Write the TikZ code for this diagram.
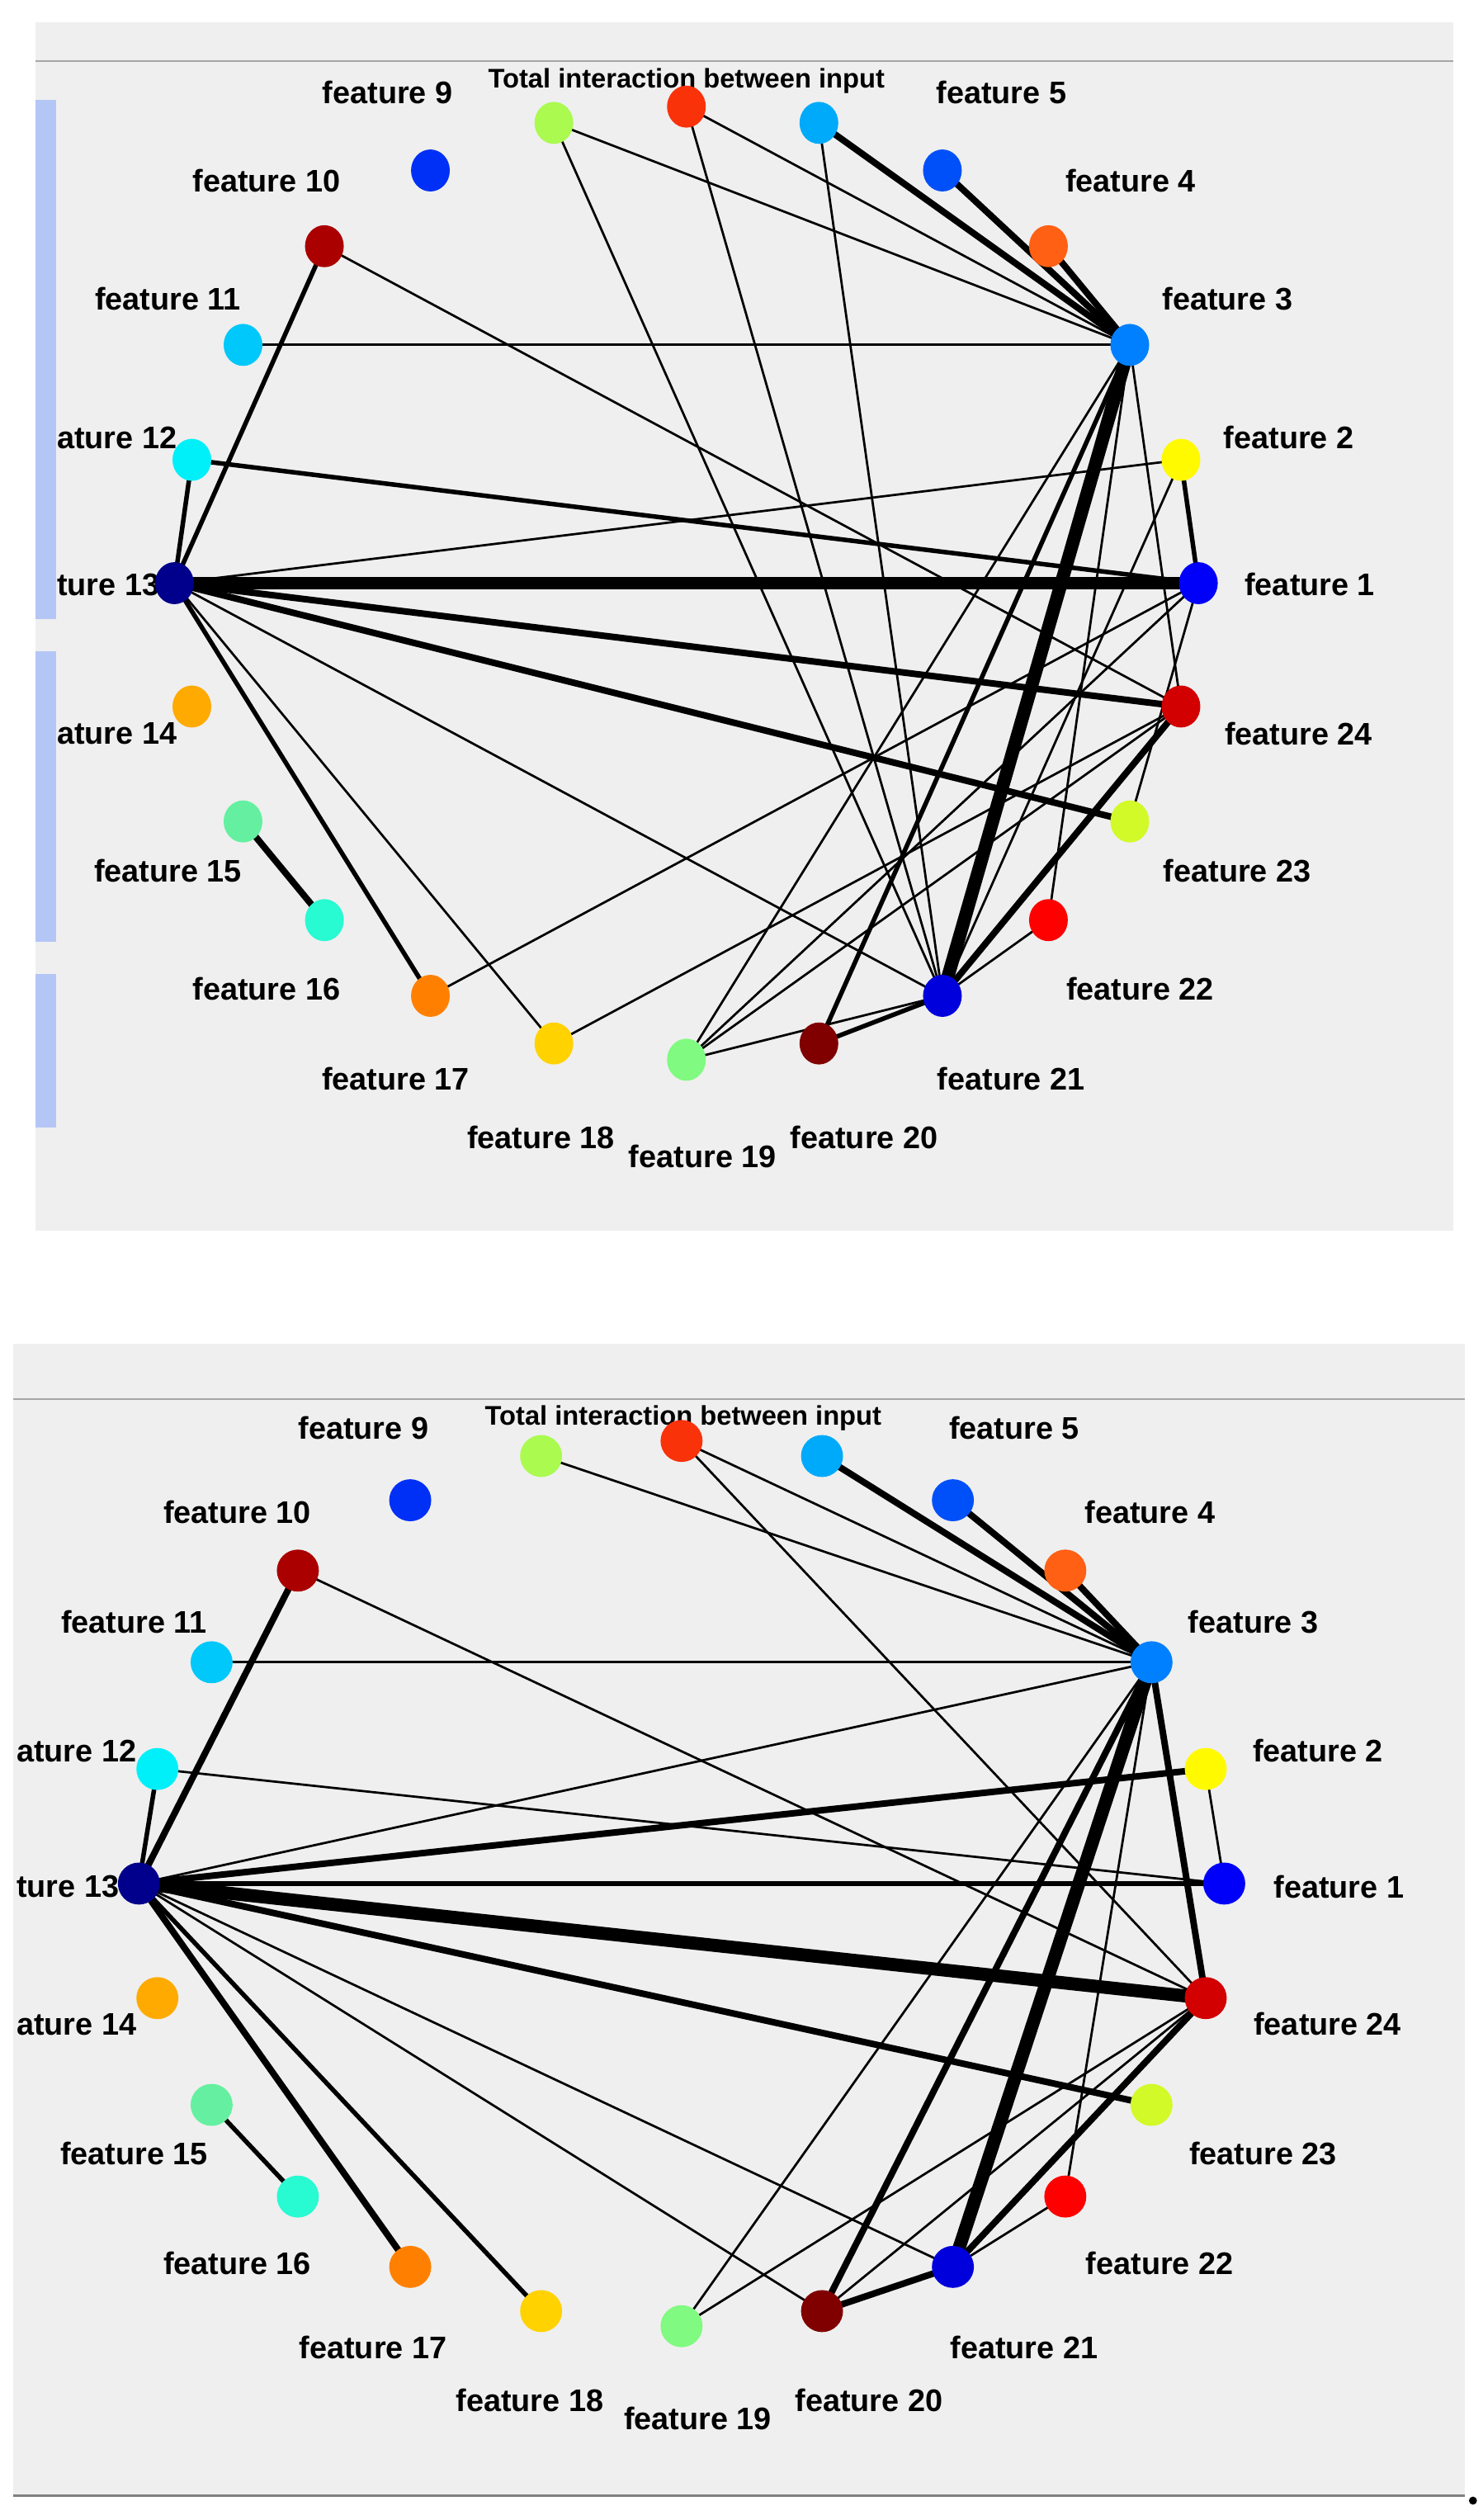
\documentclass[tikz,border=0pt]{standalone}
\usepackage{fontspec}
\setmainfont{Liberation Sans}
\definecolor{bg}{RGB}{239,239,239}
\definecolor{side}{RGB}{180,198,245}
\definecolor{c1}{RGB}{0,0,250}
\definecolor{c2}{RGB}{255,250,0}
\definecolor{c3}{RGB}{0,128,255}
\definecolor{c4}{RGB}{255,96,20}
\definecolor{c5}{RGB}{0,80,250}
\definecolor{c6}{RGB}{0,170,250}
\definecolor{c7}{RGB}{250,50,10}
\definecolor{c8}{RGB}{170,250,80}
\definecolor{c9}{RGB}{0,48,245}
\definecolor{c10}{RGB}{170,0,0}
\definecolor{c11}{RGB}{0,200,250}
\definecolor{c12}{RGB}{0,240,250}
\definecolor{c13}{RGB}{0,0,140}
\definecolor{c14}{RGB}{255,170,0}
\definecolor{c15}{RGB}{100,240,160}
\definecolor{c16}{RGB}{40,250,210}
\definecolor{c17}{RGB}{255,128,0}
\definecolor{c18}{RGB}{255,210,0}
\definecolor{c19}{RGB}{128,250,128}
\definecolor{c20}{RGB}{128,0,0}
\definecolor{c21}{RGB}{0,0,220}
\definecolor{c22}{RGB}{255,0,0}
\definecolor{c23}{RGB}{210,250,40}
\definecolor{c24}{RGB}{210,0,0}
\tikzset{
 thn/.style={line width=0.8pt},
 med/.style={line width=1.6pt},
 thk/.style={line width=2.3pt},
 huge/.style={line width=4.6pt},
 lab/.style={font=\bfseries\fontsize{11}{12}\selectfont, inner sep=0pt},
 ttl/.style={font=\bfseries\fontsize{9.5}{11}\selectfont, inner sep=0pt}
}
\begin{document}
\begin{tikzpicture}[x=0.02cm,y=-0.02cm]
\useasboundingbox (0,0) rectangle (918,1560);
\fill[white] (0,0) rectangle (918,1560);
% top panel
\fill[bg] (22,14) rectangle (900,762);
\draw[gray!70, line width=0.6pt] (22,38) -- (900,38);
\fill[side] (22,62) rectangle (35,383);
\fill[side] (22,403) rectangle (35,583);
\fill[side] (22,603) rectangle (35,698);
% bottom panel
\fill[bg] (8,832) rectangle (907,1545);
\draw[gray!70, line width=0.6pt] (8,866) -- (907,866);
\draw[gray, line width=1pt] (8,1545) -- (907,1545);
\fill[black] (912,1548) circle (2.5);
\foreach \i in {1,...,24}{
 \coordinate (t\i) at ({425+317*cos(15*(\i-1))},{361-295*sin(15*(\i-1))});
 \coordinate (b\i) at ({422+336*cos(15*(\i-1))},{1166-274*sin(15*(\i-1))});
}
% top edges
\draw[huge] (t13) -- (t1);
\draw[huge] (t3) -- (t21);
\draw[thk] (t13) -- (t24);
\draw[thk] (t13) -- (t23);
\draw[thn] (t13) -- (t2);
\draw[med] (t13) -- (t12);
\draw[med] (t13) -- (t10);
\draw[med] (t13) -- (t17);
\draw[thn] (t13) -- (t18);
\draw[thn] (t13) -- (t21);
\draw[med] (t12) -- (t1);
\draw[thn] (t11) -- (t3);
\draw[thn] (t10) -- (t24);
\draw[thk] (t15) -- (t16);
\draw[thk] (t3) -- (t6);
\draw[thk] (t3) -- (t5);
\draw[thk] (t3) -- (t4);
\draw[thn] (t3) -- (t7);
\draw[thn] (t3) -- (t8);
\draw[thn] (t3) -- (t24);
\draw[med] (t3) -- (t20);
\draw[thn] (t3) -- (t19);
\draw[thn] (t3) -- (t22);
\draw[med] (t2) -- (t1);
\draw[thn] (t2) -- (t21);
\draw[thn] (t1) -- (t17);
\draw[thn] (t1) -- (t19);
\draw[thn] (t1) -- (t23);
\draw[thn] (t18) -- (t24);
\draw[thk] (t24) -- (t21);
\draw[thn] (t24) -- (t19);
\draw[med] (t21) -- (t20);
\draw[thn] (t21) -- (t19);
\draw[thn] (t21) -- (t22);
\draw[thn] (t21) -- (t7);
\draw[thn] (t21) -- (t6);
\draw[thn] (t21) -- (t8);
% bottom edges
\draw[huge] (b13) -- (b24);
\draw[huge] (b3) -- (b21);
\draw[med] (b13) -- (b1);
\draw[thk] (b13) -- (b2);
\draw[thk] (b13) -- (b23);
\draw[thn] (b13) -- (b3);
\draw[med] (b13) -- (b12);
\draw[thk] (b13) -- (b10);
\draw[thk] (b13) -- (b17);
\draw[med] (b13) -- (b18);
\draw[thn] (b13) -- (b20);
\draw[thn] (b13) -- (b21);
\draw[thn] (b12) -- (b1);
\draw[thn] (b11) -- (b3);
\draw[thn] (b10) -- (b24);
\draw[med] (b15) -- (b16);
\draw[thk] (b3) -- (b20);
\draw[thk] (b3) -- (b24);
\draw[thk] (b3) -- (b6);
\draw[thk] (b3) -- (b5);
\draw[thk] (b3) -- (b4);
\draw[thn] (b3) -- (b7);
\draw[thn] (b3) -- (b8);
\draw[thn] (b3) -- (b19);
\draw[thn] (b3) -- (b22);
\draw[thn] (b2) -- (b1);
\draw[thn] (b7) -- (b24);
\draw[thk] (b24) -- (b21);
\draw[thn] (b24) -- (b20);
\draw[thn] (b24) -- (b19);
\draw[thk] (b21) -- (b20);
\draw[thn] (b21) -- (b22);
% top labels
\node[lab] (lt9) at (240,57) {feature 9};
\node[ttl] (ltt) at (425,50) {Total interaction between input};
\node[lab] (lt5) at (620,57) {feature 5};
\node[lab] (lt4) at (700,112) {feature 4};
\node[lab] (lt3) at (760,185) {feature 3};
\node[lab] (lt2) at (798,271) {feature 2};
\node[lab] (lt1) at (811,362) {feature 1};
\node[lab] (lt24) at (804,454) {feature 24};
\node[lab] (lt23) at (766,539) {feature 23};
\node[lab] (lt22) at (706,612) {feature 22};
\node[lab] (lt21) at (626,668) {feature 21};
\node[lab] (lt20) at (535,704) {feature 20};
\node[lab] (lt19) at (435,716) {feature 19};
\node[lab] (lt18) at (335,704) {feature 18};
\node[lab] (lt17) at (245,668) {feature 17};
\node[lab] (lt16) at (165,612) {feature 16};
\node[lab] (lt15) at (104,539) {feature 15};
\node[lab,anchor=west] (lt14) at (35,454) {ature 14};
\node[lab,anchor=west] (lt13) at (35,362) {ture 13};
\node[lab,anchor=west] (lt12) at (35,271) {ature 12};
\node[lab] (lt11) at (104,185) {feature 11};
\node[lab] (lt10) at (165,112) {feature 10};
% bottom labels
\node[lab] (lb9) at (225,884) {feature 9};
\node[ttl] (lbt) at (423,878) {Total interaction between input};
\node[lab] (lb5) at (628,884) {feature 5};
\node[lab] (lb4) at (712,936) {feature 4};
\node[lab] (lb3) at (776,1004) {feature 3};
\node[lab] (lb2) at (816,1084) {feature 2};
\node[lab] (lb1) at (829,1168) {feature 1};
\node[lab] (lb24) at (822,1253) {feature 24};
\node[lab] (lb23) at (782,1333) {feature 23};
\node[lab] (lb22) at (718,1401) {feature 22};
\node[lab] (lb21) at (634,1453) {feature 21};
\node[lab] (lb20) at (538,1486) {feature 20};
\node[lab] (lb19) at (432,1497) {feature 19};
\node[lab] (lb18) at (328,1486) {feature 18};
\node[lab] (lb17) at (231,1453) {feature 17};
\node[lab] (lb16) at (147,1401) {feature 16};
\node[lab] (lb15) at (83,1333) {feature 15};
\node[lab,anchor=west] (lb14) at (10,1253) {ature 14};
\node[lab,anchor=west] (lb13) at (10,1168) {ture 13};
\node[lab,anchor=west] (lb12) at (10,1084) {ature 12};
\node[lab] (lb11) at (83,1004) {feature 11};
\node[lab] (lb10) at (147,936) {feature 10};
% nodes
\foreach \i in {1,...,24}{
 \fill[c\i] (t\i) ellipse (12 and 13);
 \fill[c\i] (b\i) ellipse (13 and 13);
}
\end{tikzpicture}
\end{document}
